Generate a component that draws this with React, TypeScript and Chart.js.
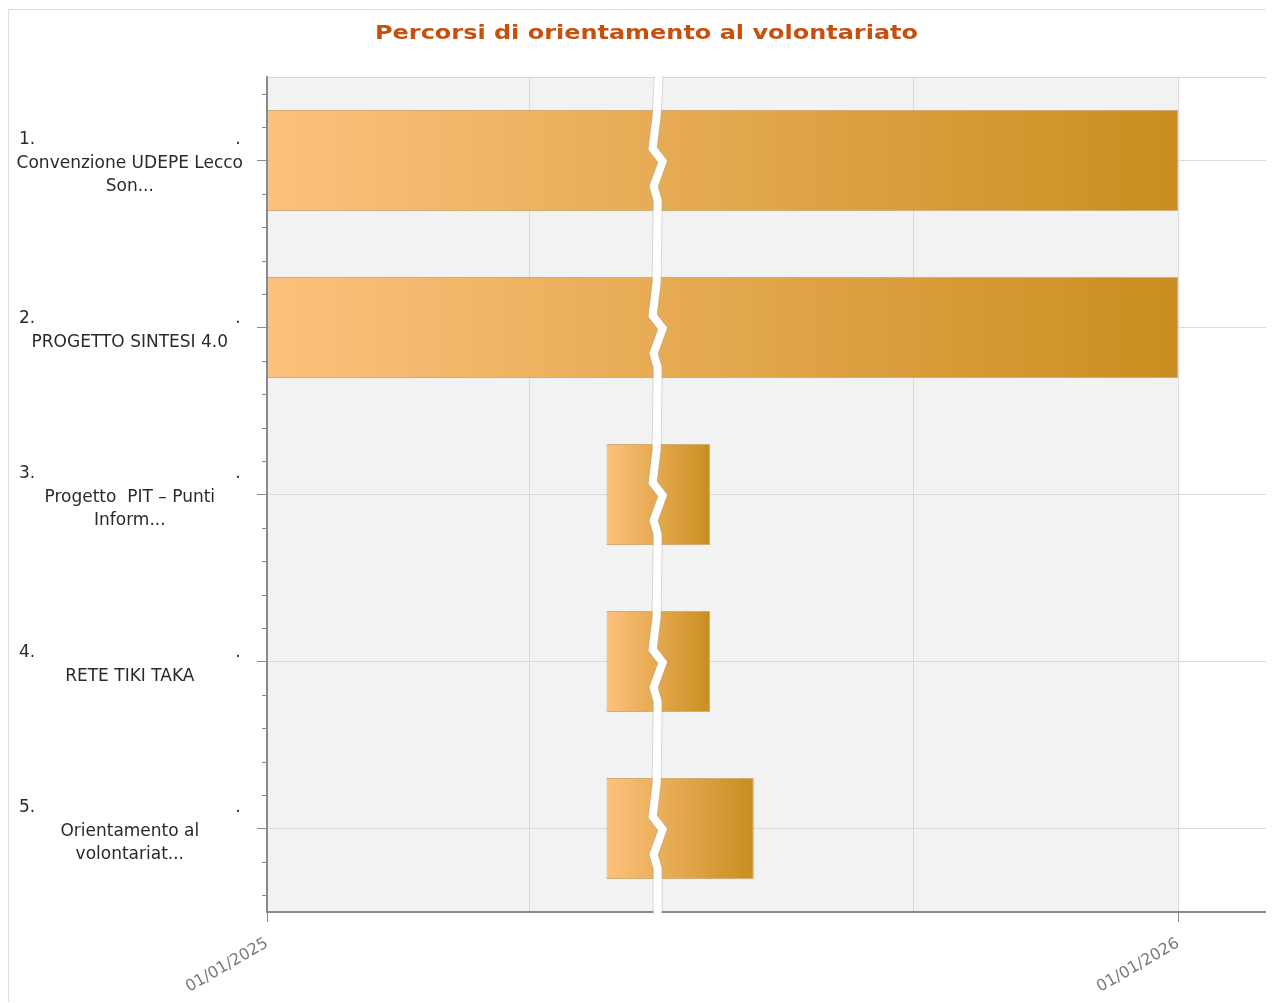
import React, { useEffect, useRef } from 'react';
import { Chart, registerables } from 'chart.js';

Chart.register(...registerables);

// ---- data ----
const TITLE = 'Percorsi di orientamento al volontariato';
const taskNumbers = ['1.', '2.', '3.', '4.', '5.'];
const taskNames: string[][] = [
  ['Convenzione UDEPE Lecco', 'Son...'],
  ['PROGETTO SINTESI 4.0'],
  ['Progetto  PIT – Punti', 'Inform...'],
  ['RETE TIKI TAKA'],
  ['Orientamento al', 'volontariat...'],
];
// values in days counted from 01/01/2025
const startDays = [0, 0, 136, 136, 136];
const endDays = [365, 365, 177.5, 177.5, 195];
const tickDays = [0, 105, 259, 365];
const tickLabels = ['01/01/2025', '', '', '01/01/2026'];
const axisMaxDay = 401;
const plotEndDay = 365;
const breakDay = 156.5;

export default function App() {
  const ref = useRef<HTMLCanvasElement>(null);

  useEffect(() => {
    const canvas = ref.current;
    if (!canvas) return;

    const labelFont = '17px "DejaVu Sans"';
    const mctx = document.createElement('canvas').getContext('2d')!;
    mctx.font = labelFont;
    const widest = Math.max(...taskNames.flat().map((s) => mctx.measureText(s).width));
    const labels = taskNumbers.map((n, i) => {
      let first = n + ' ';
      while (mctx.measureText(first + ' .').width < widest - 4) first += ' ';
      return [first + '.', ...taskNames[i]];
    });

    const bgPlugin = {
      id: 'bgPlugin',
      beforeDraw(chart: any) {
        const { ctx, chartArea: a, scales } = chart;
        ctx.save();
        ctx.fillStyle = '#ffffff';
        ctx.fillRect(0, 0, chart.width, chart.height);
        const xe = scales.x.getPixelForValue(plotEndDay);
        ctx.fillStyle = '#f2f2f2';
        ctx.fillRect(a.left, a.top, xe - a.left, a.bottom - a.top);
        ctx.restore();
      },
      beforeDatasetsDraw(chart: any) {
        const { ctx, chartArea: a, scales } = chart;
        ctx.save();
        ctx.strokeStyle = '#d6d6d6';
        ctx.lineWidth = 1;
        ctx.beginPath();
        ctx.moveTo(a.left, a.top + 0.5);
        ctx.lineTo(a.right, a.top + 0.5);
        ctx.moveTo(a.right - 0.5, a.top);
        ctx.lineTo(a.right - 0.5, a.bottom);
        ctx.stroke();
        // minor ticks on the category axis
        const y = scales.y;
        const step = (y.getPixelForTick(1) - y.getPixelForTick(0)) / 5;
        ctx.strokeStyle = '#8a8a8a';
        ctx.beginPath();
        for (let i = 0; i < labels.length; i++) {
          const c = y.getPixelForTick(i);
          for (const k of [-2, -1, 1, 2]) {
            const py = Math.round(c + k * step) + 0.5;
            ctx.moveTo(a.left - 5, py);
            ctx.lineTo(a.left, py);
          }
        }
        ctx.stroke();
        ctx.restore();
      },
    };

    const breakPlugin = {
      id: 'breakPlugin',
      afterDatasetsDraw(chart: any) {
        const { ctx, chartArea: a, scales } = chart;
        const x0 = scales.x.getPixelForValue(breakDay);
        const y = scales.y;
        const pts: [number, number][] = [[a.top - 1, 1]];
        for (let i = 0; i < labels.length; i++) {
          const c = y.getPixelForTick(i);
          pts.push([c - 45, -1], [c - 12, -5], [c + 1, 5], [c + 26, -4], [c + 40, 0]);
        }
        pts.push([a.bottom + 2, 0]);
        ctx.save();
        ctx.beginPath();
        pts.forEach(([py, dx], j) => (j ? ctx.lineTo(x0 + dx, py) : ctx.moveTo(x0 + dx, py)));
        ctx.lineJoin = 'miter';
        ctx.lineCap = 'butt';
        ctx.strokeStyle = 'rgba(170,170,170,0.35)';
        ctx.lineWidth = 10;
        ctx.stroke();
        ctx.strokeStyle = '#ffffff';
        ctx.lineWidth = 8;
        ctx.stroke();
        ctx.restore();
      },
    };

    const titlePlugin = {
      id: 'titlePlugin',
      afterDraw(chart: any) {
        const { ctx } = chart;
        ctx.save();
        ctx.font = 'bold 20px "DejaVu Sans"';
        const w = ctx.measureText(TITLE).width;
        ctx.translate(637.5, 24);
        ctx.scale(543 / w, 1);
        ctx.textAlign = 'center';
        ctx.textBaseline = 'middle';
        ctx.fillStyle = '#c8500f';
        ctx.fillText(TITLE, 0, 0);
        ctx.restore();
      },
    };

    const gradient = (c: any) => {
      const chart = c.chart;
      if (!chart.chartArea || c.type !== 'data' || !chart.scales.x) return '#e0a84a';
      const raw = c.raw as [number, number];
      const xs = chart.scales.x;
      const x0 = xs.getPixelForValue(raw[0]);
      const x1 = xs.getPixelForValue(raw[1]);
      const g = chart.ctx.createLinearGradient(x0, 0, x1, 0);
      g.addColorStop(0, '#fec17d');
      g.addColorStop(1, '#c98e1f');
      return g;
    };

    const chart = new Chart(canvas, {
      type: 'bar',
      data: {
        labels,
        datasets: [
          {
            data: startDays.map((s, i) => [s, endDays[i]]),
            backgroundColor: gradient,
            borderColor: 'rgba(185,125,40,0.6)',
            borderWidth: 1,
            borderSkipped: false,
            barPercentage: 0.605,
            categoryPercentage: 1,
          } as any,
        ],
      },
      options: {
        indexAxis: 'y',
        responsive: false,
        animation: false,
        layout: { padding: { top: 67, right: 6, left: 0, bottom: 0 } },
        plugins: {
          legend: { display: false },
          tooltip: { enabled: false },
          title: { display: false },
        },
        scales: {
          x: {
            type: 'linear',
            min: 0,
            max: axisMaxDay,
            afterBuildTicks: (s: any) => {
              s.ticks = tickDays.map((v) => ({ value: v }));
            },
            afterFit: (s: any) => {
              s.height = 91;
            },
            ticks: {
              callback: (_v: any, i: number) => tickLabels[i] ?? '',
              minRotation: 30,
              maxRotation: 30,
              autoSkip: false,
              font: { family: 'DejaVu Sans', size: 16 },
              color: '#7a7a7a',
              padding: 12,
            },
            grid: {
              color: '#dadada',
              tickLength: 10,
              tickColor: (c: any) => (tickLabels[c.index] ? '#8a8a8a' : 'rgba(0,0,0,0)'),
            },
            border: { color: '#8a8a8a', width: 2 },
          },
          y: {
            afterFit: (s: any) => {
              s.width = 258;
            },
            grid: { offset: false, color: '#dadada', tickLength: 10, tickColor: '#8a8a8a' },
            border: { color: '#8a8a8a', width: 2 },
            ticks: {
              crossAlign: 'center',
              padding: 14,
              labelOffset: 3,
              autoSkip: false,
              font: { family: 'DejaVu Sans', size: 17, lineHeight: 1.38 },
              color: '#2a2a2a',
            },
          },
        },
      } as any,
      plugins: [bgPlugin, breakPlugin, titlePlugin],
    });

    return () => chart.destroy();
  }, []);

  return (
    <div
      style={{
        position: 'relative',
        top: 1,
        width: 1266,
        height: 994,
        borderTop: '1px solid #dcdcdc',
        borderLeft: '1px solid #dcdcdc',
        boxSizing: 'border-box',
      }}
    >
      <canvas ref={ref} width={1265} height={993} style={{ display: 'block' }} />
    </div>
  );
}
